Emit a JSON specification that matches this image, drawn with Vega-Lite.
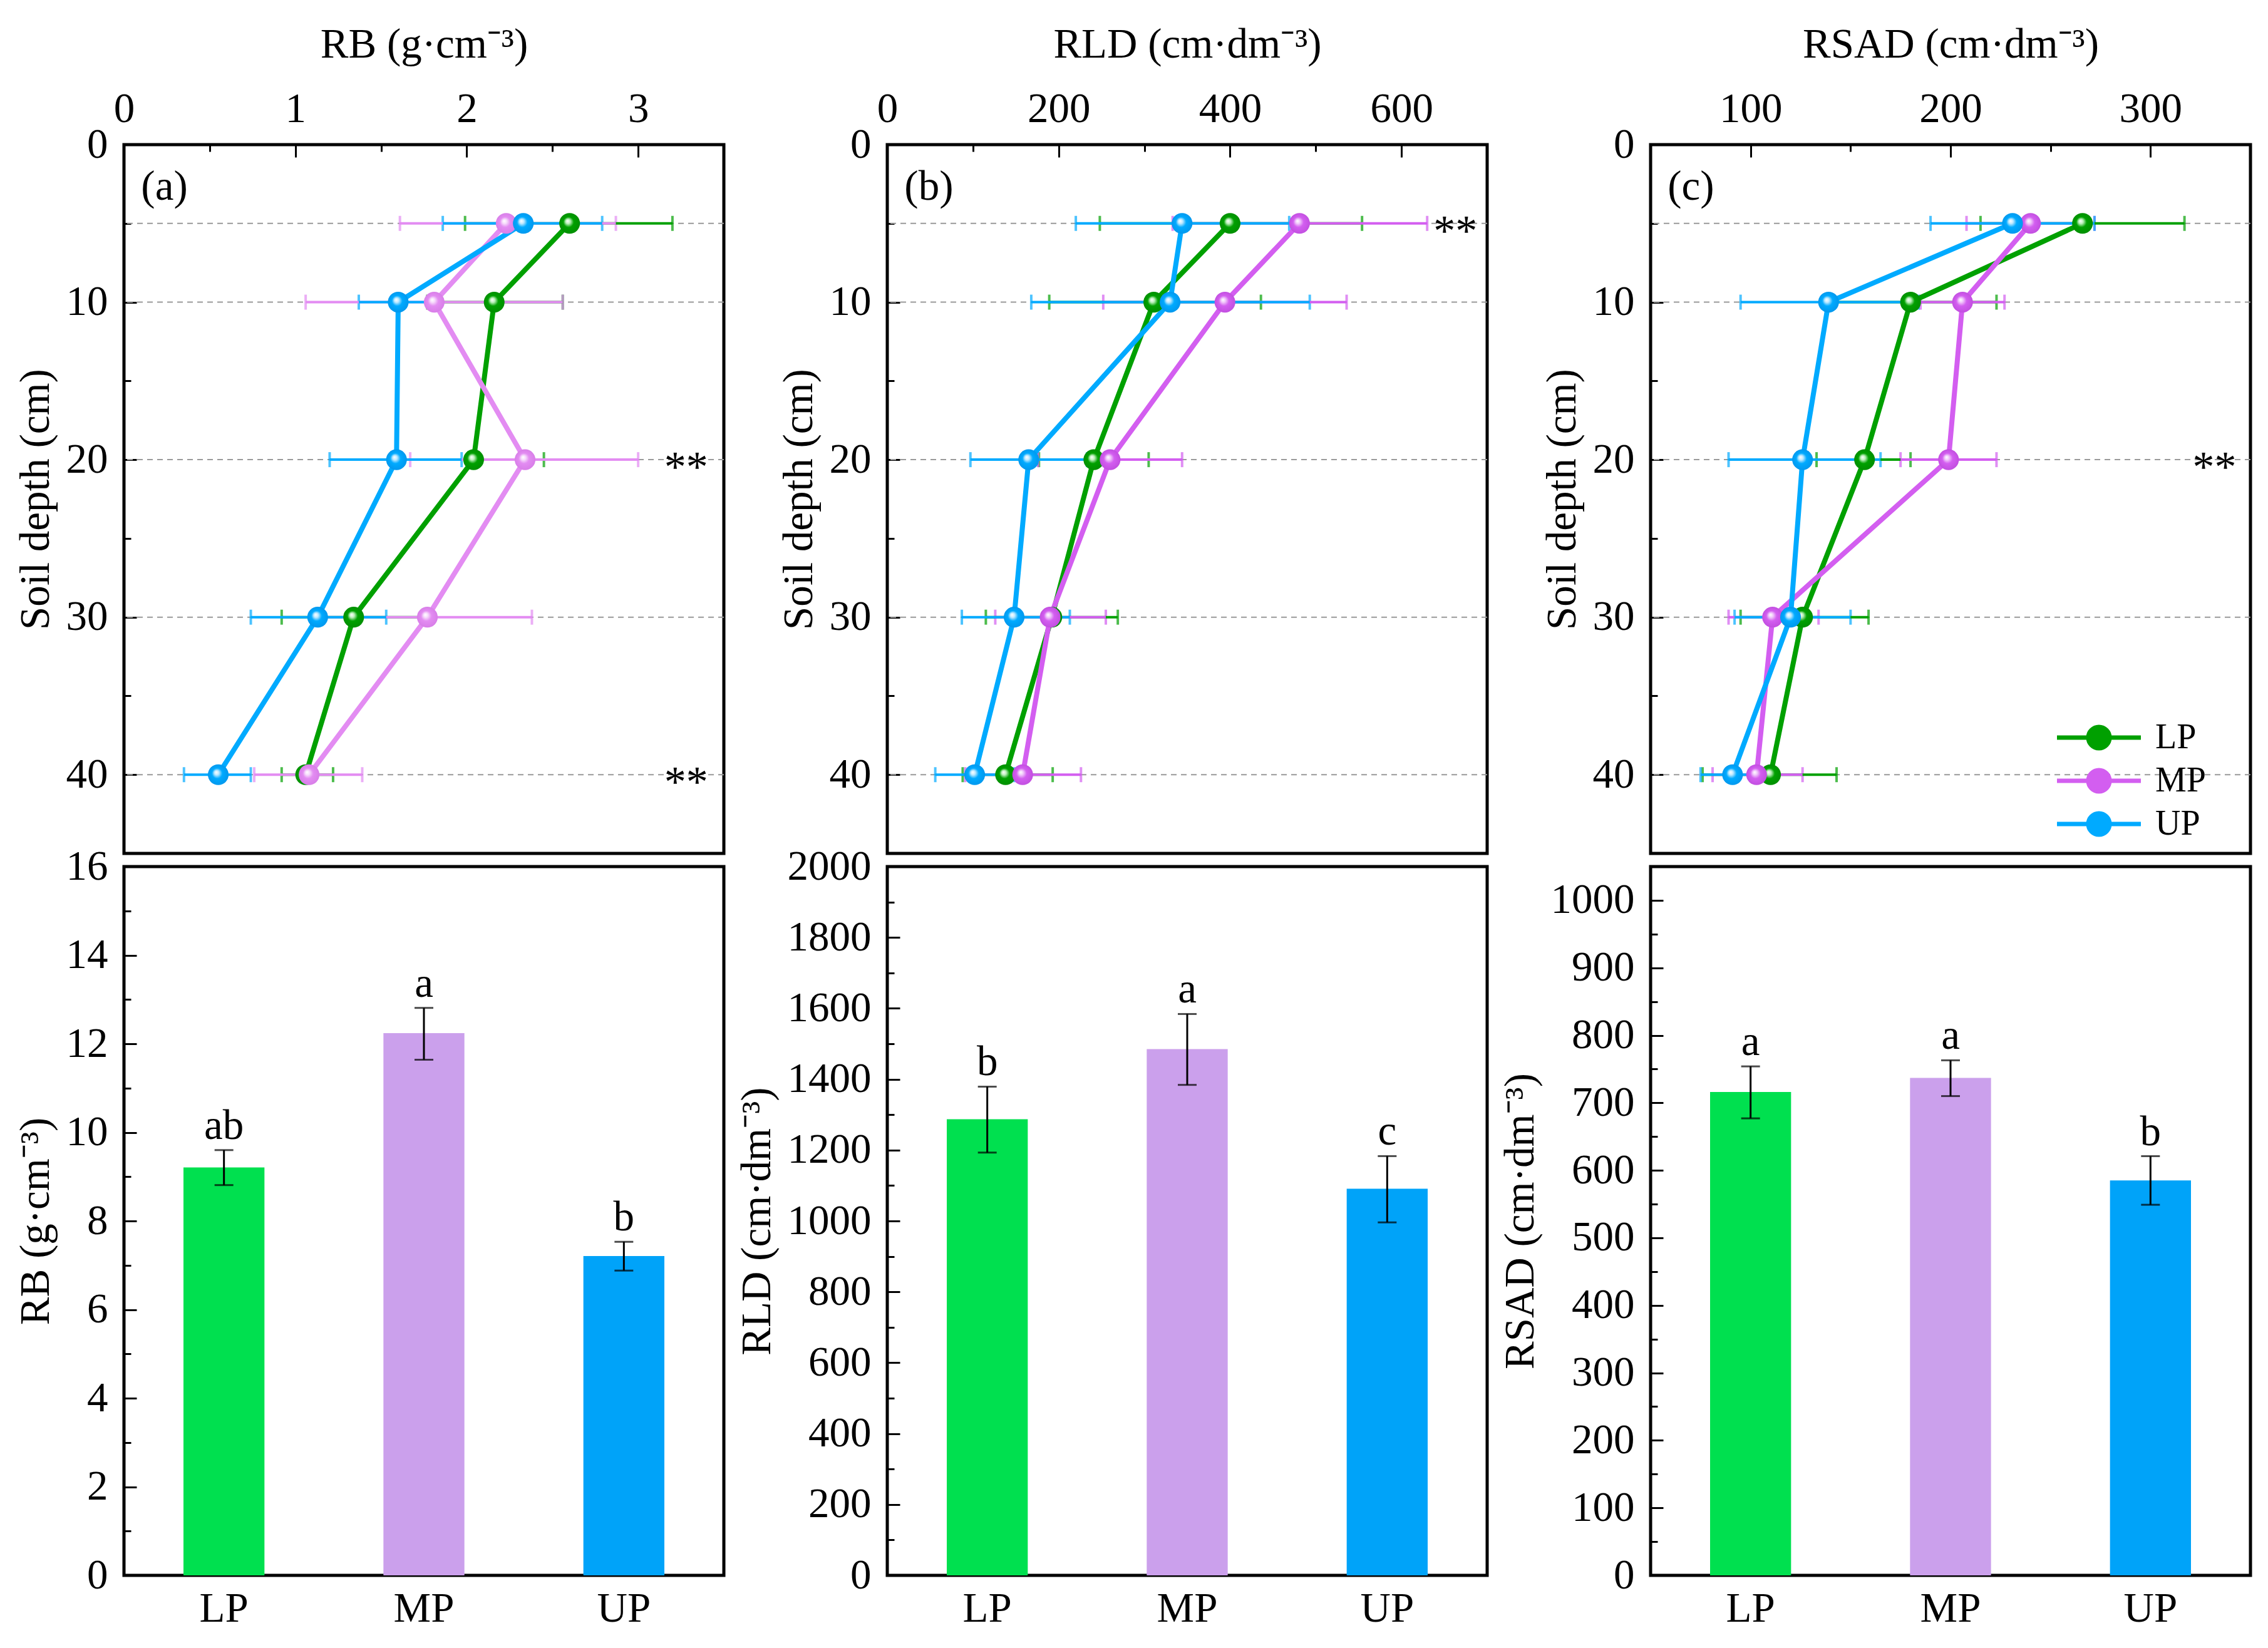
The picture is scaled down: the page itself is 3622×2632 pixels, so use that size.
{
  "$schema": "https://vega.github.io/schema/vega-lite/v6.json",
  "padding": {"left": 20, "top": 34, "right": 5, "bottom": 5},
  "background": "white",
  "columns": 3,
  "spacing": {"row": 21, "column": 261},
  "bounds": "flush",
  "resolve": {"scale": {"color": "independent"}},
  "datasets": {
    "grid": [{"depth": 5}, {"depth": 10}, {"depth": 20}, {"depth": 30}, {"depth": 40}],
    "pa": [
      {"s": "LP", "depth": 5, "v": 2.60, "lo": 1.99, "hi": 3.20},
      {"s": "LP", "depth": 10, "v": 2.16, "lo": 1.77, "hi": 2.56},
      {"s": "LP", "depth": 20, "v": 2.04, "lo": 1.62, "hi": 2.45},
      {"s": "LP", "depth": 30, "v": 1.34, "lo": 0.92, "hi": 1.75},
      {"s": "LP", "depth": 40, "v": 1.06, "lo": 0.92, "hi": 1.22},
      {"s": "MP", "depth": 5, "v": 2.23, "lo": 1.61, "hi": 2.87},
      {"s": "MP", "depth": 10, "v": 1.81, "lo": 1.06, "hi": 2.56},
      {"s": "MP", "depth": 20, "v": 2.34, "lo": 1.67, "hi": 3.00},
      {"s": "MP", "depth": 30, "v": 1.77, "lo": 1.16, "hi": 2.38},
      {"s": "MP", "depth": 40, "v": 1.08, "lo": 0.76, "hi": 1.39},
      {"s": "UP", "depth": 5, "v": 2.33, "lo": 1.86, "hi": 2.79},
      {"s": "UP", "depth": 10, "v": 1.60, "lo": 1.37, "hi": 1.83},
      {"s": "UP", "depth": 20, "v": 1.59, "lo": 1.20, "hi": 1.97},
      {"s": "UP", "depth": 30, "v": 1.13, "lo": 0.74, "hi": 1.53},
      {"s": "UP", "depth": 40, "v": 0.55, "lo": 0.35, "hi": 0.74}
    ],
    "pb": [
      {"s": "LP", "depth": 5, "v": 400, "lo": 248, "hi": 554},
      {"s": "LP", "depth": 10, "v": 311, "lo": 189, "hi": 436},
      {"s": "LP", "depth": 20, "v": 241, "lo": 177, "hi": 305},
      {"s": "LP", "depth": 30, "v": 192, "lo": 115, "hi": 269},
      {"s": "LP", "depth": 40, "v": 138, "lo": 88, "hi": 193},
      {"s": "MP", "depth": 5, "v": 481, "lo": 333, "hi": 630},
      {"s": "MP", "depth": 10, "v": 394, "lo": 252, "hi": 536},
      {"s": "MP", "depth": 20, "v": 260, "lo": 176, "hi": 344},
      {"s": "MP", "depth": 30, "v": 190, "lo": 126, "hi": 255},
      {"s": "MP", "depth": 40, "v": 158, "lo": 91, "hi": 226},
      {"s": "UP", "depth": 5, "v": 344, "lo": 220, "hi": 469},
      {"s": "UP", "depth": 10, "v": 330, "lo": 168, "hi": 493},
      {"s": "UP", "depth": 20, "v": 165, "lo": 97, "hi": 233},
      {"s": "UP", "depth": 30, "v": 148, "lo": 87, "hi": 213},
      {"s": "UP", "depth": 40, "v": 102, "lo": 56, "hi": 148}
    ],
    "pc": [
      {"s": "LP", "depth": 5, "v": 266, "lo": 215, "hi": 317},
      {"s": "LP", "depth": 10, "v": 180, "lo": 137, "hi": 223},
      {"s": "LP", "depth": 20, "v": 157, "lo": 133, "hi": 180},
      {"s": "LP", "depth": 30, "v": 126, "lo": 95, "hi": 159},
      {"s": "LP", "depth": 40, "v": 110, "lo": 76, "hi": 143},
      {"s": "MP", "depth": 5, "v": 240, "lo": 208, "hi": 272},
      {"s": "MP", "depth": 10, "v": 206, "lo": 185, "hi": 227},
      {"s": "MP", "depth": 20, "v": 199, "lo": 175, "hi": 223},
      {"s": "MP", "depth": 30, "v": 111, "lo": 89, "hi": 134},
      {"s": "MP", "depth": 40, "v": 103, "lo": 81, "hi": 126},
      {"s": "UP", "depth": 5, "v": 231, "lo": 190, "hi": 272},
      {"s": "UP", "depth": 10, "v": 139, "lo": 95, "hi": 184},
      {"s": "UP", "depth": 20, "v": 126, "lo": 89, "hi": 165},
      {"s": "UP", "depth": 30, "v": 120, "lo": 92, "hi": 150},
      {"s": "UP", "depth": 40, "v": 91, "lo": 75, "hi": 107}
    ],
    "sa": [{"v": 3.28, "depth": 20, "t": "**"}, {"v": 3.28, "depth": 40, "t": "**"}],
    "sb": [{"v": 663, "depth": 5, "t": "**"}],
    "sc": [{"v": 332, "depth": 20, "t": "**"}],
    "la": [{"v": 0.1, "depth": 2.7, "t": "(a)"}],
    "lb": [{"v": 20, "depth": 2.7, "t": "(b)"}],
    "lc": [{"v": 58.5, "depth": 2.7, "t": "(c)"}],
    "ba": [
      {"s": "LP", "v": 9.21, "lo": 8.81, "hi": 9.60, "sig": "ab"},
      {"s": "MP", "v": 12.24, "lo": 11.64, "hi": 12.81, "sig": "a"},
      {"s": "UP", "v": 7.21, "lo": 6.88, "hi": 7.53, "sig": "b"}
    ],
    "bb": [
      {"s": "LP", "v": 1287, "lo": 1193, "hi": 1379, "sig": "b"},
      {"s": "MP", "v": 1485, "lo": 1384, "hi": 1584, "sig": "a"},
      {"s": "UP", "v": 1091, "lo": 996, "hi": 1183, "sig": "c"}
    ],
    "bc": [
      {"s": "LP", "v": 716, "lo": 677, "hi": 754, "sig": "a"},
      {"s": "MP", "v": 737, "lo": 710, "hi": 763, "sig": "a"},
      {"s": "UP", "v": 585, "lo": 549, "hi": 621, "sig": "b"}
    ]
  },
  "concat": [
    {
      "width": 958, "height": 1132,
      "encoding": {"y": {"field": "depth", "type": "quantitative", "scale": {"domain": [0, 45], "reverse": true, "nice": false, "zero": false},
        "axis": {"title": "Soil depth (cm)", "values": [0, 5, 10, 15, 20, 25, 30, 35, 40], "labelExpr": "datum.value % 10 === 0 ? format(datum.value, 'd') : ''", "tickSize": {"condition": {"test": "datum.value % 10 !== 0", "value": -11}, "value": -20}, "labelPadding": 46, "titlePadding": 14}}},
      "layer": [
        {"data": {"name": "grid"}, "mark": {"type": "rule", "color": "#9a9a9a", "strokeDash": [9, 7], "strokeWidth": 2}},
        {"data": {"name": "pa"}, "mark": {"type": "errorbar", "ticks": true, "size": 24, "thickness": 4},
          "encoding": {"x": {"field": "lo", "type": "quantitative", "scale": {"domain": [0, 3.5], "nice": false, "zero": false},
            "axis": {"orient": "top", "title": "RB (g·cm⁻³)", "values": [0, 0.5, 1, 1.5, 2, 2.5, 3, 3.5], "labelExpr": "datum.value % 1 === 0 ? format(datum.value, 'd') : ''", "tickSize": {"condition": {"test": "datum.value % 1 !== 0", "value": -11}, "value": -20}, "labelPadding": 43, "titlePadding": 26}},
            "x2": {"field": "hi"},
            "color": {"field": "s", "type": "nominal", "scale": {"domain": ["LP", "MP", "UP"], "range": ["#00A000", "#E38CF2", "#00AAFF"]}, "legend": null}}},
        {"data": {"name": "pa"}, "mark": {"type": "line", "strokeWidth": 8},
          "encoding": {"x": {"field": "v", "type": "quantitative", "scale": {"domain": [0, 3.5], "nice": false, "zero": false}},
            "order": {"field": "depth", "type": "quantitative"},
            "color": {"field": "s", "type": "nominal", "legend": null}}},
        {"data": {"name": "pa"}, "transform": [{"filter": "datum.s === 'LP'"}],
          "mark": {"type": "point", "filled": true, "size": 1100, "opacity": 1, "strokeWidth": 0,
            "fill": {"gradient": "radial", "x1": 0.4, "y1": 0.38, "r1": 0, "x2": 0.5, "y2": 0.5, "r2": 0.5, "stops": [{"offset": 0, "color": "#ffffff"}, {"offset": 0.22, "color": "#bdf0bd"}, {"offset": 0.5, "color": "#00a000"}, {"offset": 1, "color": "#008f00"}]}},
          "encoding": {"x": {"field": "v", "type": "quantitative", "scale": {"domain": [0, 3.5], "nice": false, "zero": false}}}},
        {"data": {"name": "pa"}, "transform": [{"filter": "datum.s === 'MP'"}],
          "mark": {"type": "point", "filled": true, "size": 1100, "opacity": 1, "strokeWidth": 0,
            "fill": {"gradient": "radial", "x1": 0.4, "y1": 0.38, "r1": 0, "x2": 0.5, "y2": 0.5, "r2": 0.5, "stops": [{"offset": 0, "color": "#ffffff"}, {"offset": 0.22, "color": "#f6dcfb"}, {"offset": 0.5, "color": "#e38cf2"}, {"offset": 1, "color": "#d87ee8"}]}},
          "encoding": {"x": {"field": "v", "type": "quantitative", "scale": {"domain": [0, 3.5], "nice": false, "zero": false}}}},
        {"data": {"name": "pa"}, "transform": [{"filter": "datum.s === 'UP'"}],
          "mark": {"type": "point", "filled": true, "size": 1100, "opacity": 1, "strokeWidth": 0,
            "fill": {"gradient": "radial", "x1": 0.4, "y1": 0.38, "r1": 0, "x2": 0.5, "y2": 0.5, "r2": 0.5, "stops": [{"offset": 0, "color": "#ffffff"}, {"offset": 0.22, "color": "#bfe9ff"}, {"offset": 0.5, "color": "#00aaff"}, {"offset": 1, "color": "#0098ee"}]}},
          "encoding": {"x": {"field": "v", "type": "quantitative", "scale": {"domain": [0, 3.5], "nice": false, "zero": false}}}},
        {"data": {"name": "sa"}, "mark": {"type": "text", "fontSize": 70, "baseline": "middle", "align": "center", "dy": 14},
          "encoding": {"x": {"field": "v", "type": "quantitative", "scale": {"domain": [0, 3.5], "nice": false, "zero": false}}, "text": {"field": "t"}}},
        {"data": {"name": "la"}, "mark": {"type": "text", "fontSize": 67, "baseline": "middle", "align": "left"},
          "encoding": {"x": {"field": "v", "type": "quantitative", "scale": {"domain": [0, 3.5], "nice": false, "zero": false}}, "text": {"field": "t"}}}
      ]
    },
    {
      "width": 958, "height": 1132,
      "encoding": {"y": {"field": "depth", "type": "quantitative", "scale": {"domain": [0, 45], "reverse": true, "nice": false, "zero": false},
        "axis": {"title": "Soil depth (cm)", "values": [0, 5, 10, 15, 20, 25, 30, 35, 40], "labelExpr": "datum.value % 10 === 0 ? format(datum.value, 'd') : ''", "tickSize": {"condition": {"test": "datum.value % 10 !== 0", "value": -11}, "value": -20}, "labelPadding": 46, "titlePadding": 14}}},
      "layer": [
        {"data": {"name": "grid"}, "mark": {"type": "rule", "color": "#9a9a9a", "strokeDash": [9, 7], "strokeWidth": 2}},
        {"data": {"name": "pb"}, "mark": {"type": "errorbar", "ticks": true, "size": 24, "thickness": 4},
          "encoding": {"x": {"field": "lo", "type": "quantitative", "scale": {"domain": [0, 700], "nice": false, "zero": false},
            "axis": {"orient": "top", "title": "RLD (cm·dm⁻³)", "values": [0, 100, 200, 300, 400, 500, 600, 700], "labelExpr": "datum.value % 200 === 0 ? format(datum.value, 'd') : ''", "tickSize": {"condition": {"test": "datum.value % 200 !== 0", "value": -11}, "value": -20}, "labelPadding": 43, "titlePadding": 26}},
            "x2": {"field": "hi"},
            "color": {"field": "s", "type": "nominal", "scale": {"domain": ["LP", "MP", "UP"], "range": ["#00A000", "#D35EF0", "#00AAFF"]}, "legend": null}}},
        {"data": {"name": "pb"}, "mark": {"type": "line", "strokeWidth": 8},
          "encoding": {"x": {"field": "v", "type": "quantitative", "scale": {"domain": [0, 700], "nice": false, "zero": false}},
            "order": {"field": "depth", "type": "quantitative"},
            "color": {"field": "s", "type": "nominal", "legend": null}}},
        {"data": {"name": "pb"}, "transform": [{"filter": "datum.s === 'LP'"}],
          "mark": {"type": "point", "filled": true, "size": 1100, "opacity": 1, "strokeWidth": 0,
            "fill": {"gradient": "radial", "x1": 0.4, "y1": 0.38, "r1": 0, "x2": 0.5, "y2": 0.5, "r2": 0.5, "stops": [{"offset": 0, "color": "#ffffff"}, {"offset": 0.22, "color": "#bdf0bd"}, {"offset": 0.5, "color": "#00a000"}, {"offset": 1, "color": "#008f00"}]}},
          "encoding": {"x": {"field": "v", "type": "quantitative", "scale": {"domain": [0, 700], "nice": false, "zero": false}}}},
        {"data": {"name": "pb"}, "transform": [{"filter": "datum.s === 'MP'"}],
          "mark": {"type": "point", "filled": true, "size": 1100, "opacity": 1, "strokeWidth": 0,
            "fill": {"gradient": "radial", "x1": 0.4, "y1": 0.38, "r1": 0, "x2": 0.5, "y2": 0.5, "r2": 0.5, "stops": [{"offset": 0, "color": "#ffffff"}, {"offset": 0.22, "color": "#f0c8fa"}, {"offset": 0.5, "color": "#d35ef0"}, {"offset": 1, "color": "#c24fe0"}]}},
          "encoding": {"x": {"field": "v", "type": "quantitative", "scale": {"domain": [0, 700], "nice": false, "zero": false}}}},
        {"data": {"name": "pb"}, "transform": [{"filter": "datum.s === 'UP'"}],
          "mark": {"type": "point", "filled": true, "size": 1100, "opacity": 1, "strokeWidth": 0,
            "fill": {"gradient": "radial", "x1": 0.4, "y1": 0.38, "r1": 0, "x2": 0.5, "y2": 0.5, "r2": 0.5, "stops": [{"offset": 0, "color": "#ffffff"}, {"offset": 0.22, "color": "#bfe9ff"}, {"offset": 0.5, "color": "#00aaff"}, {"offset": 1, "color": "#0098ee"}]}},
          "encoding": {"x": {"field": "v", "type": "quantitative", "scale": {"domain": [0, 700], "nice": false, "zero": false}}}},
        {"data": {"name": "sb"}, "mark": {"type": "text", "fontSize": 70, "baseline": "middle", "align": "center", "dy": 14},
          "encoding": {"x": {"field": "v", "type": "quantitative", "scale": {"domain": [0, 700], "nice": false, "zero": false}}, "text": {"field": "t"}}},
        {"data": {"name": "lb"}, "mark": {"type": "text", "fontSize": 67, "baseline": "middle", "align": "left"},
          "encoding": {"x": {"field": "v", "type": "quantitative", "scale": {"domain": [0, 700], "nice": false, "zero": false}}, "text": {"field": "t"}}}
      ]
    },
    {
      "width": 958, "height": 1132,
      "encoding": {"y": {"field": "depth", "type": "quantitative", "scale": {"domain": [0, 45], "reverse": true, "nice": false, "zero": false},
        "axis": {"title": "Soil depth (cm)", "values": [0, 5, 10, 15, 20, 25, 30, 35, 40], "labelExpr": "datum.value % 10 === 0 ? format(datum.value, 'd') : ''", "tickSize": {"condition": {"test": "datum.value % 10 !== 0", "value": -11}, "value": -20}, "labelPadding": 46, "titlePadding": 14}}},
      "layer": [
        {"data": {"name": "grid"}, "mark": {"type": "rule", "color": "#9a9a9a", "strokeDash": [9, 7], "strokeWidth": 2}},
        {"data": {"name": "pc"}, "mark": {"type": "errorbar", "ticks": true, "size": 24, "thickness": 4},
          "encoding": {"x": {"field": "lo", "type": "quantitative", "scale": {"domain": [50, 350], "nice": false, "zero": false},
            "axis": {"orient": "top", "title": "RSAD (cm·dm⁻³)", "values": [50, 100, 150, 200, 250, 300, 350], "labelExpr": "datum.value % 100 === 0 ? format(datum.value, 'd') : ''", "tickSize": {"condition": {"test": "datum.value % 100 !== 0", "value": -11}, "value": -20}, "labelPadding": 43, "titlePadding": 26}},
            "x2": {"field": "hi"},
            "color": {"field": "s", "type": "nominal", "scale": {"domain": ["LP", "MP", "UP"], "range": ["#00A000", "#D35EF0", "#00AAFF"]}}}},
        {"data": {"name": "pc"}, "mark": {"type": "line", "strokeWidth": 8},
          "encoding": {"x": {"field": "v", "type": "quantitative", "scale": {"domain": [50, 350], "nice": false, "zero": false}},
            "order": {"field": "depth", "type": "quantitative"},
            "color": {"field": "s", "type": "nominal",
              "legend": {"orient": "none", "legendX": 688, "legendY": 919, "title": null,
                "symbolType": "M-3.35,0L3.35,0M0.85,0A0.85,0.85,0,1,1,-0.85,0A0.85,0.85,0,1,1,0.85,0Z",
                "symbolSize": 1600, "symbolStrokeWidth": 7, "labelFontSize": 56, "labelFont": "Liberation Serif", "labelColor": "black",
                "labelOffset": 62, "rowPadding": 7,
                "encode": {"symbols": {"update": {
                  "fill": {"signal": "datum.value === 'LP' ? '#00A000' : datum.value === 'MP' ? '#D35EF0' : '#00AAFF'"},
                  "stroke": {"signal": "datum.value === 'LP' ? '#00A000' : datum.value === 'MP' ? '#D35EF0' : '#00AAFF'"},
                  "strokeWidth": {"value": 7}, "opacity": {"value": 1}}}}}}}},
        {"data": {"name": "pc"}, "transform": [{"filter": "datum.s === 'LP'"}],
          "mark": {"type": "point", "filled": true, "size": 1100, "opacity": 1, "strokeWidth": 0,
            "fill": {"gradient": "radial", "x1": 0.4, "y1": 0.38, "r1": 0, "x2": 0.5, "y2": 0.5, "r2": 0.5, "stops": [{"offset": 0, "color": "#ffffff"}, {"offset": 0.22, "color": "#bdf0bd"}, {"offset": 0.5, "color": "#00a000"}, {"offset": 1, "color": "#008f00"}]}},
          "encoding": {"x": {"field": "v", "type": "quantitative", "scale": {"domain": [50, 350], "nice": false, "zero": false}}}},
        {"data": {"name": "pc"}, "transform": [{"filter": "datum.s === 'MP'"}],
          "mark": {"type": "point", "filled": true, "size": 1100, "opacity": 1, "strokeWidth": 0,
            "fill": {"gradient": "radial", "x1": 0.4, "y1": 0.38, "r1": 0, "x2": 0.5, "y2": 0.5, "r2": 0.5, "stops": [{"offset": 0, "color": "#ffffff"}, {"offset": 0.22, "color": "#f0c8fa"}, {"offset": 0.5, "color": "#d35ef0"}, {"offset": 1, "color": "#c24fe0"}]}},
          "encoding": {"x": {"field": "v", "type": "quantitative", "scale": {"domain": [50, 350], "nice": false, "zero": false}}}},
        {"data": {"name": "pc"}, "transform": [{"filter": "datum.s === 'UP'"}],
          "mark": {"type": "point", "filled": true, "size": 1100, "opacity": 1, "strokeWidth": 0,
            "fill": {"gradient": "radial", "x1": 0.4, "y1": 0.38, "r1": 0, "x2": 0.5, "y2": 0.5, "r2": 0.5, "stops": [{"offset": 0, "color": "#ffffff"}, {"offset": 0.22, "color": "#bfe9ff"}, {"offset": 0.5, "color": "#00aaff"}, {"offset": 1, "color": "#0098ee"}]}},
          "encoding": {"x": {"field": "v", "type": "quantitative", "scale": {"domain": [50, 350], "nice": false, "zero": false}}}},
        {"data": {"name": "sc"}, "mark": {"type": "text", "fontSize": 70, "baseline": "middle", "align": "center", "dy": 14},
          "encoding": {"x": {"field": "v", "type": "quantitative", "scale": {"domain": [50, 350], "nice": false, "zero": false}}, "text": {"field": "t"}}},
        {"data": {"name": "lc"}, "mark": {"type": "text", "fontSize": 67, "baseline": "middle", "align": "left"},
          "encoding": {"x": {"field": "v", "type": "quantitative", "scale": {"domain": [50, 350], "nice": false, "zero": false}}, "text": {"field": "t"}}}
      ]
    },
    {
      "width": 958, "height": 1132,
      "data": {"name": "ba"},
      "encoding": {"x": {"field": "s", "type": "nominal", "sort": ["LP", "MP", "UP"], "scale": {"domain": ["LP", "MP", "UP"], "paddingInner": 0.595, "paddingOuter": 0.2975},
        "axis": {"title": null, "ticks": false, "labelAngle": 0, "labelPadding": 20, "orient": "bottom"}}},
      "layer": [
        {"mark": {"type": "bar"},
          "encoding": {"y": {"field": "v", "type": "quantitative", "title": "RB (g·cm⁻³)", "scale": {"domain": [0, 16], "nice": false},
            "axis": {"title": "RB (g·cm⁻³)", "values": [0, 1, 2, 3, 4, 5, 6, 7, 8, 9, 10, 11, 12, 13, 14, 15, 16], "labelExpr": "datum.value % 2 === 0 ? format(datum.value, 'd') : ''", "tickSize": {"condition": {"test": "datum.value % 2 !== 0", "value": -11}, "value": -20}, "labelPadding": 46, "titlePadding": 14}},
            "color": {"field": "s", "type": "nominal", "scale": {"domain": ["LP", "MP", "UP"], "range": ["#00E04F", "#CBA0EC", "#00A3F9"]}, "legend": null}}},
        {"mark": {"type": "errorbar", "ticks": true, "size": 30, "thickness": 3, "color": "black"},
          "encoding": {"y": {"field": "lo", "type": "quantitative", "title": "RB (g·cm⁻³)", "scale": {"domain": [0, 16], "nice": false}}, "y2": {"field": "hi"}}},
        {"mark": {"type": "text", "fontSize": 67, "baseline": "alphabetic", "align": "center", "dy": -18},
          "encoding": {"y": {"field": "hi", "type": "quantitative", "title": "RB (g·cm⁻³)", "scale": {"domain": [0, 16], "nice": false}}, "text": {"field": "sig"}}}
      ]
    },
    {
      "width": 958, "height": 1132,
      "data": {"name": "bb"},
      "encoding": {"x": {"field": "s", "type": "nominal", "sort": ["LP", "MP", "UP"], "scale": {"domain": ["LP", "MP", "UP"], "paddingInner": 0.595, "paddingOuter": 0.2975},
        "axis": {"title": null, "ticks": false, "labelAngle": 0, "labelPadding": 20, "orient": "bottom"}}},
      "layer": [
        {"mark": {"type": "bar"},
          "encoding": {"y": {"field": "v", "type": "quantitative", "title": "RLD (cm·dm⁻³)", "scale": {"domain": [0, 2000], "nice": false},
            "axis": {"title": "RLD (cm·dm⁻³)", "values": [0, 100, 200, 300, 400, 500, 600, 700, 800, 900, 1000, 1100, 1200, 1300, 1400, 1500, 1600, 1700, 1800, 1900, 2000], "labelExpr": "datum.value % 200 === 0 ? format(datum.value, 'd') : ''", "tickSize": {"condition": {"test": "datum.value % 200 !== 0", "value": -11}, "value": -20}, "labelPadding": 46, "titlePadding": 14}},
            "color": {"field": "s", "type": "nominal", "scale": {"domain": ["LP", "MP", "UP"], "range": ["#00E04F", "#CBA0EC", "#00A3F9"]}, "legend": null}}},
        {"mark": {"type": "errorbar", "ticks": true, "size": 30, "thickness": 3, "color": "black"},
          "encoding": {"y": {"field": "lo", "type": "quantitative", "title": "RLD (cm·dm⁻³)", "scale": {"domain": [0, 2000], "nice": false}}, "y2": {"field": "hi"}}},
        {"mark": {"type": "text", "fontSize": 67, "baseline": "alphabetic", "align": "center", "dy": -18},
          "encoding": {"y": {"field": "hi", "type": "quantitative", "title": "RLD (cm·dm⁻³)", "scale": {"domain": [0, 2000], "nice": false}}, "text": {"field": "sig"}}}
      ]
    },
    {
      "width": 958, "height": 1132,
      "data": {"name": "bc"},
      "encoding": {"x": {"field": "s", "type": "nominal", "sort": ["LP", "MP", "UP"], "scale": {"domain": ["LP", "MP", "UP"], "paddingInner": 0.595, "paddingOuter": 0.2975},
        "axis": {"title": null, "ticks": false, "labelAngle": 0, "labelPadding": 20, "orient": "bottom"}}},
      "layer": [
        {"mark": {"type": "bar"},
          "encoding": {"y": {"field": "v", "type": "quantitative", "title": "RSAD (cm·dm⁻³)", "scale": {"domain": [0, 1050], "nice": false},
            "axis": {"title": "RSAD (cm·dm⁻³)", "values": [0, 50, 100, 150, 200, 250, 300, 350, 400, 450, 500, 550, 600, 650, 700, 750, 800, 850, 900, 950, 1000], "labelExpr": "datum.value % 100 === 0 ? format(datum.value, 'd') : ''", "tickSize": {"condition": {"test": "datum.value % 100 !== 0", "value": -11}, "value": -20}, "labelPadding": 46, "titlePadding": 14}},
            "color": {"field": "s", "type": "nominal", "scale": {"domain": ["LP", "MP", "UP"], "range": ["#00E04F", "#CBA0EC", "#00A3F9"]}, "legend": null}}},
        {"mark": {"type": "errorbar", "ticks": true, "size": 30, "thickness": 3, "color": "black"},
          "encoding": {"y": {"field": "lo", "type": "quantitative", "title": "RSAD (cm·dm⁻³)", "scale": {"domain": [0, 1050], "nice": false}}, "y2": {"field": "hi"}}},
        {"mark": {"type": "text", "fontSize": 67, "baseline": "alphabetic", "align": "center", "dy": -18},
          "encoding": {"y": {"field": "hi", "type": "quantitative", "title": "RSAD (cm·dm⁻³)", "scale": {"domain": [0, 1050], "nice": false}}, "text": {"field": "sig"}}}
      ]
    }
  ],
  "config": {
    "font": "Liberation Serif",
    "view": {"stroke": "black", "strokeWidth": 5},
    "axis": {"labelFontSize": 67, "titleFontSize": 67, "labelFont": "Liberation Serif", "titleFont": "Liberation Serif", "titleFontWeight": "normal", "labelColor": "black", "titleColor": "black", "domain": false, "grid": false, "tickColor": "black", "tickWidth": 3, "labelOverlap": false, "labelFlush": false, "labelBound": false},
    "text": {"font": "Liberation Serif", "color": "black"}
  }
}
